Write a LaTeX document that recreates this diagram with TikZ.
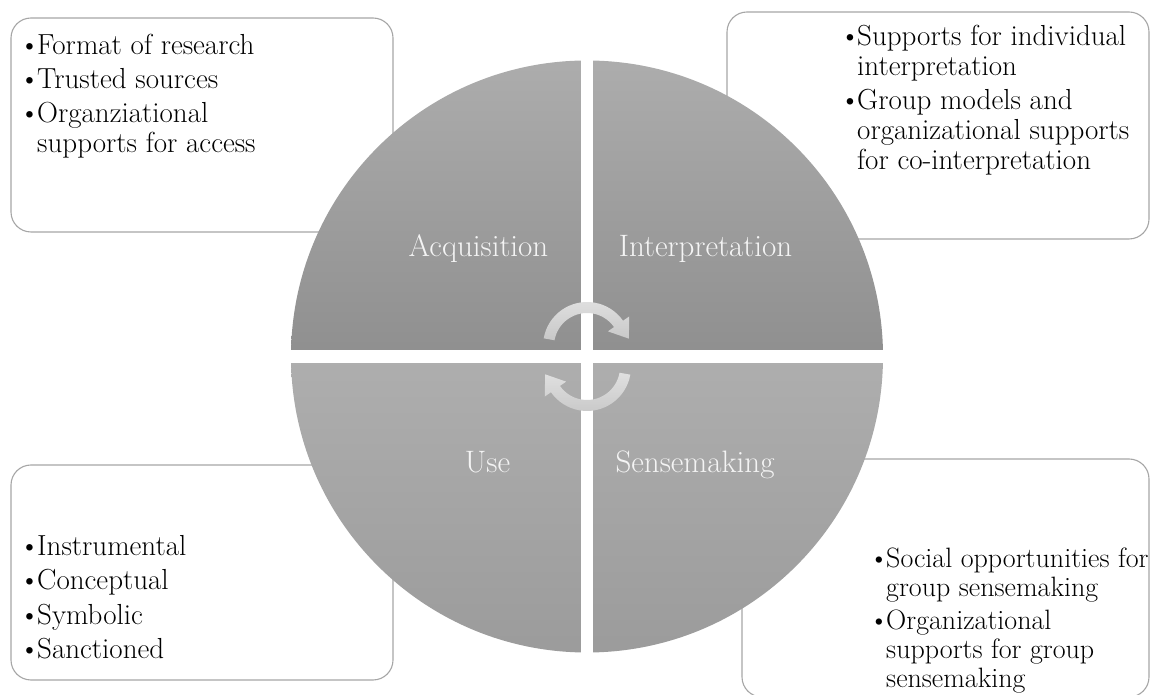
\documentclass[tikz,border=0pt]{standalone}
\usetikzlibrary{calc}
\definecolor{boxline}{HTML}{A6A6A6}
\definecolor{topA}{HTML}{ADADAD}
\definecolor{topB}{HTML}{8F8F8F}
\definecolor{botA}{HTML}{AEAEAE}
\definecolor{botB}{HTML}{9B9B9B}
\definecolor{arrowtop}{HTML}{E0E0E0}
\definecolor{arrowbot}{HTML}{C8C8C8}
\definecolor{labelwhite}{HTML}{F4F4F4}
\begin{document}
\begin{tikzpicture}[x=1pt,y=1pt]
\tikzset{
  infobox/.style={draw=boxline, line width=1.1pt, fill=white, rounded corners=20pt},
  btxt/.style={anchor=base west, inner sep=0pt, font=\fontsize{29}{34}\selectfont},
  bdot/.style={anchor=base, inner sep=0pt, font=\fontsize{29}{34}\selectfont},
  brtxt/.style={btxt, font=\fontsize{28}{33}\selectfont},
  brdot/.style={bdot, font=\fontsize{28}{33}\selectfont},
  quadlabel/.style={anchor=base, inner sep=0pt, text=labelwhite, font=\fontsize{31}{36}\selectfont},
  cyclearrow/.style={top color=arrowtop, bottom color=arrowbot, draw=none}
}
\useasboundingbox (0,0) rectangle (1150,695);
% boxes
\path[infobox] (11,463) rectangle (393,677);
\path[infobox] (727,456) rectangle (1149,683);
\path[infobox] (11,15) rectangle (393,230);
\path[infobox] (742,-2) rectangle (1149,236);
% top-left texts
\node[bdot] (tlb1) at (29.5,640) {\textbullet};
\node[btxt] (tlt1) at (37,640) {Format of research};
\node[bdot] (tlb2) at (29.5,606) {\textbullet};
\node[btxt] (tlt2) at (37,606) {Trusted sources};
\node[bdot] (tlb3) at (29.5,572) {\textbullet};
\node[btxt] (tlt3) at (37,572) {Organziational};
\node[btxt] (tlt4) at (37,542) {supports for access};
% top-right texts
\node[bdot] (trb1) at (850,649) {\textbullet};
\node[btxt] (trt1) at (857,649) {Supports for individual};
\node[btxt] (trt2) at (857,619) {interpretation};
\node[bdot] (trb2) at (850,585) {\textbullet};
\node[btxt] (trt3) at (857,585) {Group models and};
\node[btxt] (trt4) at (857,555) {organizational supports};
\node[btxt] (trt5) at (857,525) {for co-interpretation};
% bottom-left texts
\node[bdot] (blb1) at (29.5,139) {\textbullet};
\node[btxt] (blt1) at (37,139) {Instrumental};
\node[bdot] (blb2) at (29.5,105) {\textbullet};
\node[btxt] (blt2) at (37,105) {Conceptual};
\node[bdot] (blb3) at (29.5,70.5) {\textbullet};
\node[btxt] (blt3) at (37,70.5) {Symbolic};
\node[bdot] (blb4) at (29.5,36) {\textbullet};
\node[btxt] (blt4) at (37,36) {Sanctioned};
% bottom-right texts
\node[brdot] (brb1) at (879,127) {\textbullet};
\node[brtxt] (brt1) at (886,127) {Social opportunities for};
\node[brtxt] (brt2) at (886,98) {group sensemaking};
\node[brdot] (brb2) at (879,65) {\textbullet};
\node[brtxt] (brt3) at (886,65) {Organizational};
\node[brtxt] (brt4) at (886,36) {supports for group};
\node[brtxt] (brt5) at (886,7.5) {sensemaking};
% circle
\coordinate (cc) at (587,338.5);
\begin{scope}
  \clip (cc) circle[radius=296];
  \shade[top color=topA, bottom color=topB] (280,338.5) rectangle (900,640);
  \shade[top color=botA, bottom color=botB] (280,36) rectangle (900,338.5);
\end{scope}
\fill[white] (580.7,30) rectangle (593.3,650);
\fill[white] (280,332) rectangle (900,345);
% cycle arrows
\coordinate (ta) at (587,349);
\coordinate (ba) at (587,328);
\path[cyclearrow] ($(ta)+(170:44)$) arc[start angle=170, end angle=35, radius=44]
  -- ($(ta)+(35:51.5)$) -- ($(ta)+(35:38.5)+(-55:18)$) -- ($(ta)+(35:25.5)$)
  -- ($(ta)+(35:33)$) arc[start angle=35, end angle=170, radius=33] -- cycle;
\path[cyclearrow] ($(ba)+(350:44)$) arc[start angle=350, end angle=215, radius=44]
  -- ($(ba)+(215:51.5)$) -- ($(ba)+(215:38.5)+(125:18)$) -- ($(ba)+(215:25.5)$)
  -- ($(ba)+(215:33)$) arc[start angle=215, end angle=350, radius=33] -- cycle;
% quadrant labels
\node[quadlabel] (acq) at (478.5,438) {Acquisition};
\node[quadlabel] (int) at (705.5,438) {Interpretation};
\node[quadlabel] (use) at (487.5,222) {Use};
\node[quadlabel] (sen) at (695,222) {Sensemaking};
\end{tikzpicture}
\end{document}
